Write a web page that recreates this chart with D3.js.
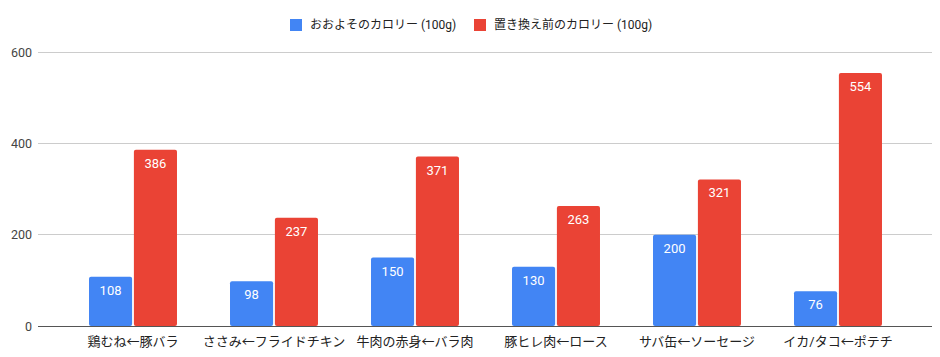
<!DOCTYPE html>
<html><head><meta charset="utf-8">
<script src="https://cdn.jsdelivr.net/npm/d3@7"></script>
<style>body{margin:0;background:#fff}svg{display:block;font-family:Roboto,"Noto Sans CJK JP",sans-serif}</style>
</head><body><svg id="c" width="940" height="357"></svg>
<script>
const categories = ["鶏むね←豚バラ","ささみ←フライドチキン","牛肉の赤身←バラ肉","豚ヒレ肉←ロース","サバ缶←ソーセージ","イカ/タコ←ポテチ"];
const seriesNames = ["おおよそのカロリー (100g)","置き換え前のカロリー (100g)"];
const approx = [108,98,150,130,200,76];
const before = [386,237,371,263,321,554];
const yTicks = [0,200,400,600];
const colors = ["#4285F4","#EA4335"];

const svg = d3.select("#c");
const x = d3.scaleBand().domain(categories).range([62.5,908.5]).paddingInner(0.376).paddingOuter(0.188);
const xs = d3.scaleBand().domain([0,1]).range([0,x.bandwidth()]).paddingInner(0.04);
const y = d3.scaleLinear().domain([0,600]).range([326,52]);

svg.append("g").selectAll("line").data(yTicks.filter(d=>d>0)).join("line")
 .attr("x1",38).attr("x2",932).attr("y1",d=>y(d)).attr("y2",d=>y(d))
 .attr("stroke","#cccccc").attr("stroke-width",1).attr("shape-rendering","crispEdges");
svg.append("g").selectAll("text").data(yTicks).join("text")
 .attr("x",32).attr("y",d=>y(d)+4.5).attr("text-anchor","end")
 .attr("font-size",12.5).attr("fill","#444").text(d=>d);

const series = [approx,before];
series.forEach((vals,si)=>{
  const g = svg.append("g");
  g.selectAll("rect").data(vals).join("rect")
   .attr("x",(d,i)=>x(categories[i])+xs(si)).attr("width",xs.bandwidth())
   .attr("y",d=>y(d)).attr("height",d=>y(0)-y(d))
   .attr("rx",2).attr("fill",colors[si]);
  g.selectAll("text").data(vals).join("text")
   .attr("x",(d,i)=>x(categories[i])+xs(si)+xs.bandwidth()/2)
   .attr("y",d=>y(d)+18).attr("text-anchor","middle")
   .attr("font-size",13).attr("fill","#fff").text(d=>d);
});
svg.append("line").attr("x1",38).attr("x2",932).attr("y1",y(0)).attr("y2",y(0))
 .attr("stroke","#555").attr("stroke-width",1).attr("shape-rendering","crispEdges");
svg.append("g").selectAll("text").data(categories).join("text")
 .attr("x",d=>x(d)+x.bandwidth()/2).attr("y",346).attr("text-anchor","middle")
 .attr("font-size",13).attr("fill","#222").text(d=>d);
const legX = [290,474];
seriesNames.forEach((n,i)=>{
  svg.append("rect").attr("x",legX[i]).attr("y",19).attr("width",12).attr("height",12).attr("fill",colors[i]);
  svg.append("text").attr("x",legX[i]+20).attr("y",29).attr("font-size",12).attr("fill","#222").text(n);
});
</script></body></html>
